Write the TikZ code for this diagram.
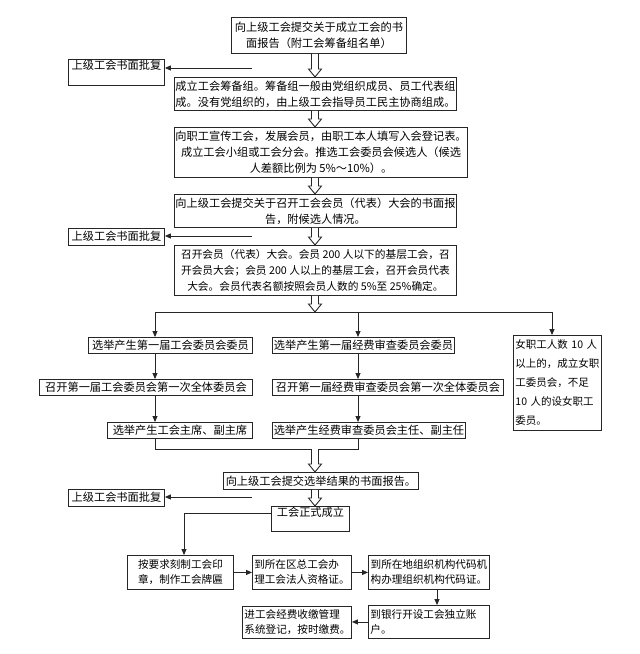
\documentclass[tikz,border=0pt]{standalone}
\usepackage{fontspec}
\newfontfamily\cjk{Noto Sans CJK SC}
\usetikzlibrary{arrows.meta,calc}
\begin{document}
\begin{tikzpicture}[x=1pt,y=-1pt,
 every node/.style={font=\cjk\fontsize{11.2}{16}\selectfont, text=black},
 box/.style={draw=black!85, line width=0.9pt, anchor=north west, align=center, inner xsep=1pt, inner ysep=0pt},
 small/.style={font=\cjk\fontsize{10.6}{15}\selectfont},
 appr/.style={box, minimum width=96, inner xsep=2pt},
 ln/.style={draw=black!85, line width=0.9pt},
 arr/.style={ln, -{Triangle[length=6pt,width=5pt]}},
 hollow/.style={ln, fill=white, to path={let \p1=(\tikztostart), \p2=(\tikztotarget) in
   (\x1-3.5pt,\y1) -- (\x1-3.5pt,\y2+8pt) -- (\x1-6.5pt,\y2+8pt) -- (\x1,\y2) -- (\x1+6.5pt,\y2+8pt) -- (\x1+3.5pt,\y2+8pt) -- (\x1+3.5pt,\y1)}}
]
\fill[white] (0,0) rectangle (640,654);
\useasboundingbox (0,0) rectangle (640,654);

% main column
\node[box, minimum width=175, minimum height=36] (b1) at (231,17) {向上级工会提交关于成立工会的书\\面报告（附工会筹备组名单）};
\node[box, minimum width=282, minimum height=33] (b2) at (174,77) {成立工会筹备组。筹备组一般由党组织成员、员工代表组\\成。没有党组织的，由上级工会指导员工民主协商组成。};
\node[box, minimum width=282, minimum height=50] (b3) at (174,127) {向职工宣传工会，发展会员，由职工本人填写入会登记表。\\成立工会小组或工会分会。推选工会委员会候选人（候选\\人差额比例为 5\%～10\%）。};
\node[box, minimum width=282, minimum height=33] (b4) at (174,194) {向上级工会提交关于召开工会会员（代表）大会的书面报\\告，附候选人情况。};
\node[box, minimum width=282, minimum height=50, font=\cjk\fontsize{10.7}{16}\selectfont] (b5) at (174,245) {召开会员（代表）大会。会员 200 人以下的基层工会，召\\开会员大会；会员 200 人以上的基层工会，召开会员代表\\大会。会员代表名额按照会员人数的 5\%至 25\%确定。};

% approvals
\node[appr, text height=9.5pt, text depth=14.5pt, inner ysep=1pt] (ap1) at (68,59) {上级工会书面批复};
\node[appr, minimum height=17, text height=9.5pt, text depth=2.5pt] (ap2) at (68,228) {上级工会书面批复};
\node[appr, minimum height=17, text height=9.5pt, text depth=2.5pt] (ap3) at (68,489) {上级工会书面批复};

% branches
\node[box, minimum width=164, minimum height=16] (L1) at (88,337) {选举产生第一届工会委员会委员};
\node[box, minimum width=213, minimum height=16] (L2) at (39,379) {召开第一届工会委员会第一次全体委员会};
\node[box, minimum width=145, minimum height=16] (L3) at (107,422) {选举产生工会主席、副主席};
\node[box, minimum width=182, minimum height=16] (M1) at (272,337) {选举产生第一届经费审查委员会委员};
\node[box, minimum width=231, minimum height=16] (M2) at (272,379) {召开第一届经费审查委员会第一次全体委员会};
\node[box, minimum width=193, minimum height=16] (M3) at (272,422) {选举产生经费审查委员会主任、副主任};
\node[box, text width=84pt, inner xsep=2pt, minimum height=95, align=left, font=\cjk\fontsize{10.5}{19}\selectfont] (R) at (513,335) {女职工人数 10 人\\以上的，成立女职\\工委员会，不足\\10 人的设女职工\\委员。};

\node[box, minimum width=195, minimum height=17] (b6) at (223,472) {向上级工会提交选举结果的书面报告。};
\node[box, minimum width=78, text height=9.5pt, text depth=13.5pt, inner ysep=1pt] (b7) at (271,506) {工会正式成立};

% bottom row
\node[box, small, minimum width=106, minimum height=34] (b8) at (127,555) {按要求刻制工会印\\章，制作工会牌匾};
\node[box, small, minimum width=99, minimum height=34, align=left] (b9) at (252,555) {到所在区总工会办\\理工会法人资格证。};
\node[box, small, minimum width=121, minimum height=34] (b10) at (368,555) {到所在地组织机构代码机\\构办理组织机构代码证。};
\node[box, small, text width=117pt, inner xsep=2pt, minimum height=33, align=left] (b11) at (368,605) {到银行开设工会独立账\\户。};
\node[box, small, text width=105pt, inner xsep=2pt, minimum height=32, align=left] (b12) at (242,606) {进工会经费收缴管理\\系统登记，按时缴费。};

% connectors
\coordinate (sp) at (315,0);
\draw[hollow] (sp |- b1.south) to (sp |- b2.north);
\draw[hollow] (sp |- b2.south) to (sp |- b3.north);
\draw[hollow] (sp |- b3.south) to (sp |- b4.north);
\draw[hollow] (sp |- b4.south) to (sp |- b5.north);

\coordinate (s1) at (252,68);
\coordinate (s2) at (252,236);
\coordinate (s3) at (252,497);
\draw[arr] (s1) -- (s1 -| ap1.east);
\draw[arr] (s2) -- (s2 -| ap2.east);
\draw[arr] (s3) -- (s3 -| ap3.east);

\coordinate (jt) at (315,312);
\coordinate (lx) at (155,312);
\coordinate (mx) at (358,312);
\coordinate (rx) at (552,312);
\draw[ln] (lx) -- (rx);
\draw[hollow] (sp |- b5.south) to (jt);
\draw[arr] (lx) -- (lx |- L1.north);
\draw[arr] (mx) -- (mx |- M1.north);
\draw[arr] (rx) -- (rx |- R.north);
\draw[arr] (lx |- L1.south) -- (lx |- L2.north);
\draw[arr] (lx |- L2.south) -- (lx |- L3.north);
\draw[arr] (mx |- M1.south) -- (mx |- M2.north);
\draw[arr] (mx |- M2.south) -- (mx |- M3.north);

\coordinate (jb) at (315,449);
\draw[ln] (lx |- L3.south) -- (lx |- jb) -- (mx |- jb) -- (mx |- M3.south);
\draw[hollow] (jb) to (sp |- b6.north);
\draw[hollow] (sp |- b6.south) to (sp |- b7.north);

\coordinate (k) at (184,513);
\draw[arr] (k -| b7.west) -- (k) -- (k |- b8.north);
\draw[arr] (b8.east) -- (b9.west);
\draw[arr] (b9.east) -- (b10.west);
\coordinate (dx) at (437,0);
\draw[arr] (dx |- b10.south) -- (dx |- b11.north);
\draw[arr] (b11.west) -- (b11.west -| b12.east);
\end{tikzpicture}
\end{document}
